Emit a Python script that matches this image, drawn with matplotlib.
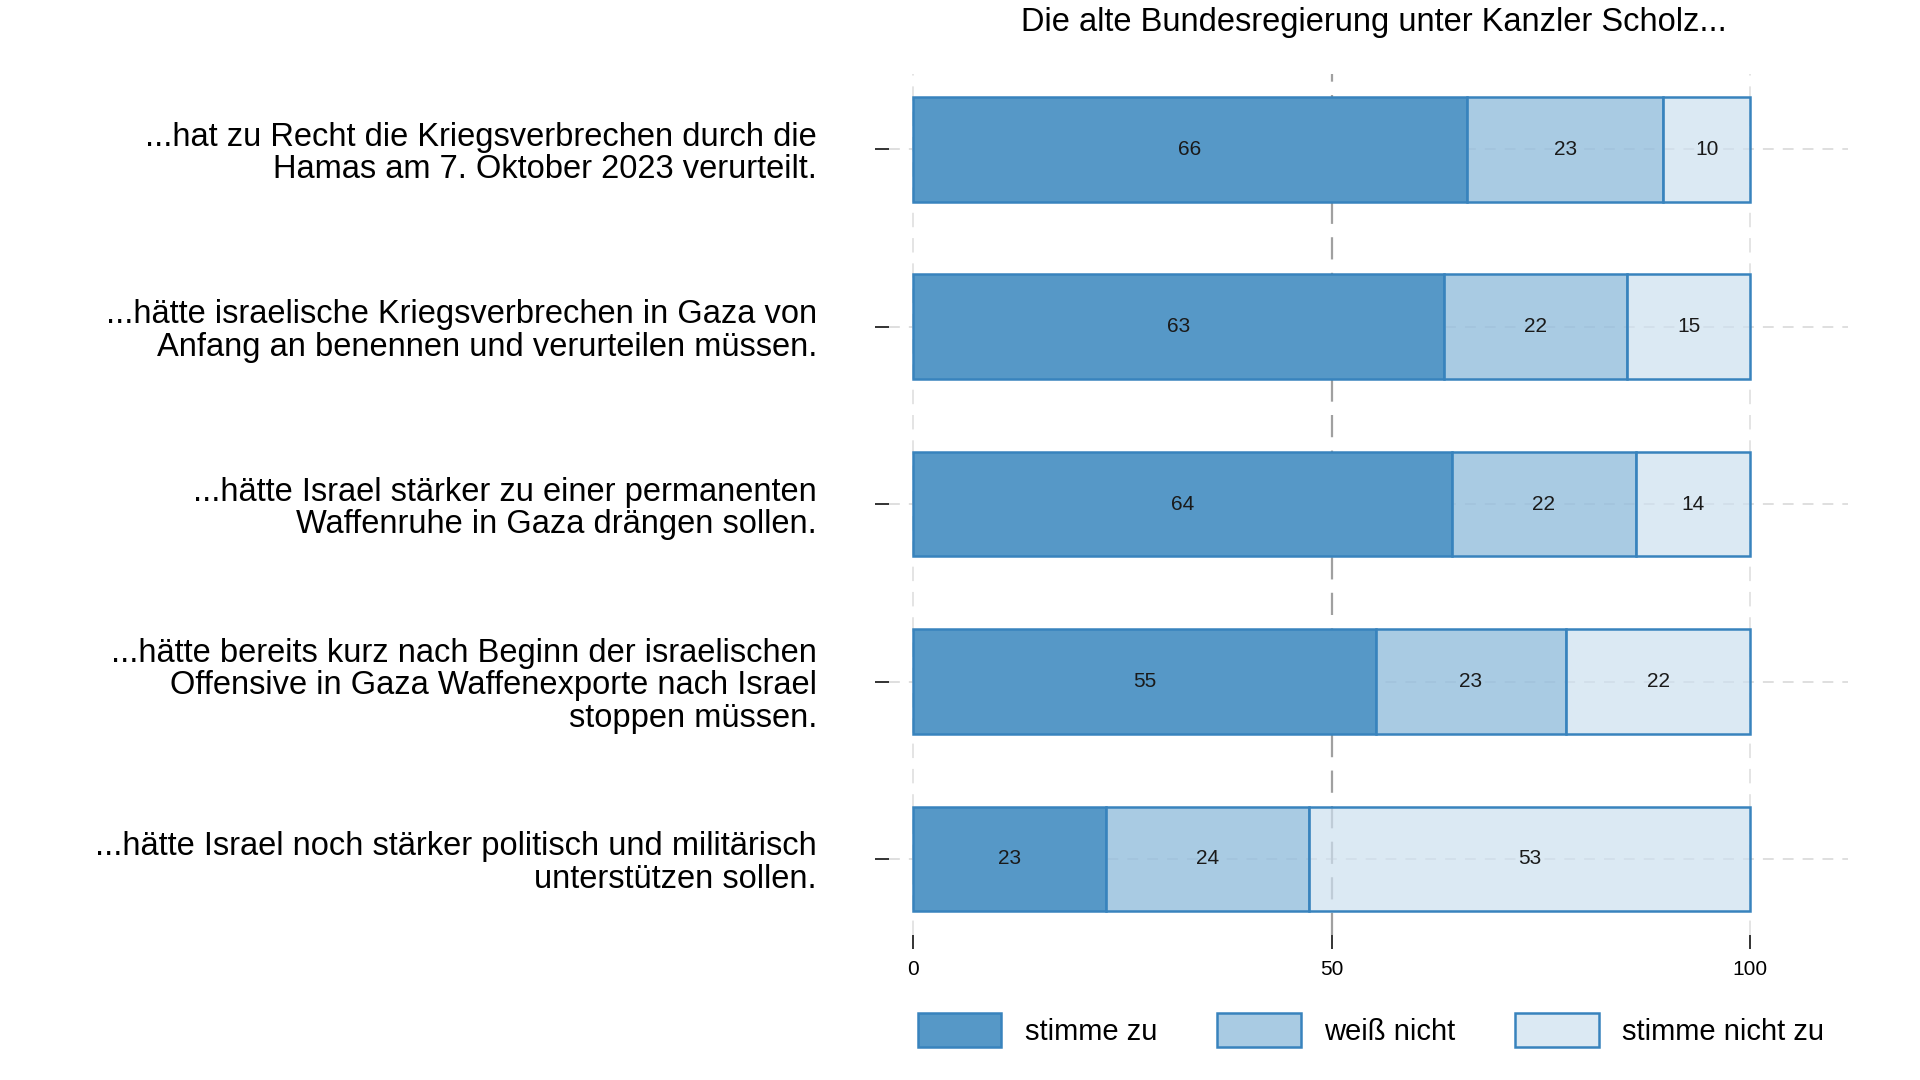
import matplotlib.pyplot as plt
from matplotlib.colors import to_rgba
from matplotlib.patches import Patch

plt.rcParams['font.family'] = ['Liberation Sans', 'DejaVu Sans']

# data read off the reference chart (segment lengths measured from the bars,
# labels are the rounded values)
statements = [
    "...hat zu Recht die Kriegsverbrechen durch die\nHamas am 7. Oktober 2023 verurteilt.",
    "...hätte israelische Kriegsverbrechen in Gaza von\nAnfang an benennen und verurteilen müssen.",
    "...hätte Israel stärker zu einer permanenten\nWaffenruhe in Gaza drängen sollen.",
    "...hätte bereits kurz nach Beginn der israelischen\nOffensive in Gaza Waffenexporte nach Israel\nstoppen müssen.",
    "...hätte Israel noch stärker politisch und militärisch\nunterstützen sollen.",
]
agree = [66.2, 63.4, 64.4, 55.3, 23.1]
dont_know = [23.4, 21.9, 21.9, 22.7, 24.2]
disagree = [10.4, 14.7, 13.7, 22.0, 52.7]
series_names = ["stimme zu", "weiß nicht", "stimme nicht zu"]
title = "Die alte Bundesregierung unter Kanzler Scholz..."

# colours (mid / light bars are a bit see-through so the grid shows)
edge = "#3883bd"
faces = [to_rgba("#5698c7", 1.0), to_rgba("#94bedd", 0.8), to_rgba("#cde0ef", 0.7)]

fig = plt.figure(figsize=(19.2, 10.8), dpi=100)
ax = fig.add_axes([0.4632, 0.134, 0.4995, 0.9317 - 0.134])

ypos = list(range(len(statements)))

# grid first, under the bars
for y in ypos:
    ax.axhline(y, color="#dcdcdc", lw=1.3, ls=(0, (6, 5)), zorder=0)
ax.axvline(0, color="#e2e2e2", lw=1.3, ls=(0, (8, 6)), zorder=0)
ax.axvline(100, color="#e2e2e2", lw=1.3, ls=(0, (8, 6)), zorder=0)
ax.axvline(50, color="#a0a0a0", lw=1.6, ls=(0, (10, 6)), zorder=0)

left = [0] * len(statements)
for vals, face in zip([agree, dont_know, disagree], faces):
    ax.barh(ypos, vals, left=left, height=0.59, color=face,
            edgecolor=edge, linewidth=1.8, zorder=2)
    for y, v, l in zip(ypos, vals, left):
        ax.text(l + v / 2, y, "%d" % round(v), ha="center", va="center",
                fontsize=15, color="#1a1a1a", zorder=3)
    left = [l + v for l, v in zip(left, vals)]

ax.set_xlim(-2.8, 111.7)
ax.set_ylim(len(statements) - 1 + 0.43, -0.425)

ax.set_yticks(ypos)
ax.set_yticklabels(statements, fontsize=23.5, linespacing=1.06)
ax.set_xticks([0, 50, 100])
ax.set_xticklabels(["0", "50", "100"], fontsize=15)
ax.tick_params(axis="y", length=10, width=1.4, color="#333333", pad=42)
ax.tick_params(axis="x", length=10, width=1.4, color="#333333", pad=8)
for s in ax.spines.values():
    s.set_visible(False)

fig.text(0.7155, 0.979, title, ha="center", va="center", fontsize=23.5)

handles = [Patch(facecolor=f, edgecolor=edge, linewidth=1.8) for f in faces]
fig.legend(handles, series_names, loc="center left", bbox_to_anchor=(0.478, 0.046),
           ncol=3, frameon=False, fontsize=21, handlelength=2.87, handleheight=1.4,
           handletextpad=0.8, columnspacing=2.05, borderpad=0, borderaxespad=0)

fig.savefig("out.png", dpi=100)
